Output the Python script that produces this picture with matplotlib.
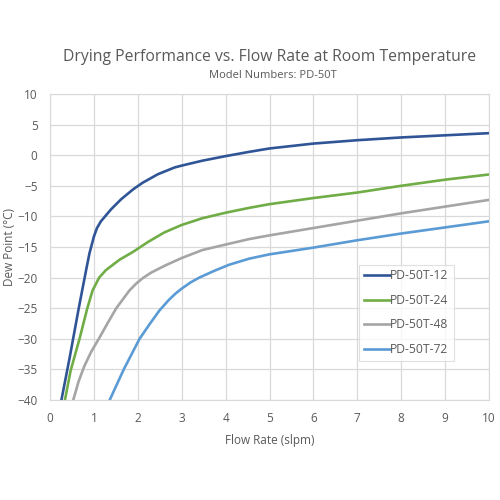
import matplotlib
matplotlib.use('Agg')
import numpy as np
from matplotlib import pyplot as plt

# flow rate (slpm) vs dew point (C)
x12 = [0.26, 0.45, 0.66, 0.83, 0.9, 1.0, 1.07, 1.16, 1.39, 1.62, 1.89, 2.11, 2.46, 2.84, 3.0, 3.47, 4.0, 4.54, 5, 6, 7, 8, 9, 10]
y12 = [-40, -33, -24.8, -18.5, -16, -13.3, -11.9, -10.8, -8.85, -7.2, -5.6, -4.5, -3.1, -2.0, -1.7, -0.9, -0.15, 0.55, 1.1, 1.9, 2.45, 2.9, 3.25, 3.6]

x24 = [0.34, 0.47, 0.68, 0.85, 0.97, 1.12, 1.27, 1.58, 1.89, 2.25, 2.61, 3.0, 3.47, 4.0, 4.54, 5, 6, 7, 8, 9, 10]
y24 = [-40, -35.2, -29.8, -25, -22.1, -20, -18.8, -17.1, -15.8, -14.1, -12.6, -11.4, -10.3, -9.4, -8.6, -8.0, -7.0, -6.1, -5.0, -4.0, -3.15]

x48 = [0.53, 0.65, 0.78, 0.94, 1.12, 1.3, 1.51, 1.81, 1.96, 2.11, 2.3, 2.63, 3.0, 3.47, 4.0, 4.54, 5, 6, 7, 8, 9, 10]
y48 = [-40, -37, -34.5, -32.1, -29.9, -27.6, -25, -22.1, -21.0, -20.1, -19.2, -18.0, -16.8, -15.5, -14.6, -13.7, -13.1, -11.9, -10.7, -9.5, -8.4, -7.3]

x72 = [1.36, 1.68, 2.04, 2.27, 2.49, 2.7, 2.86, 3.0, 3.2, 3.4, 3.74, 4.08, 4.54, 5, 6, 7, 8, 9, 10]
y72 = [-40, -35, -30, -27.6, -25.4, -23.7, -22.6, -21.8, -20.8, -20.0, -18.9, -17.9, -16.9, -16.2, -15.1, -13.9, -12.8, -11.8, -10.8]

names = ['PD-50T-12', 'PD-50T-24', 'PD-50T-48', 'PD-50T-72']
colors = ['#2F5597', '#70AD47', '#A5A5A5', '#5B9BD5']

plt.rcParams['font.family'] = ['Open Sans', 'DejaVu Sans']
txt = '#595959'

fig = plt.figure(figsize=(5, 5), dpi=100)
ax = fig.add_axes([0.1, 0.2, 0.878, 0.612])

for xs, ys, nm, c in zip([x12, x24, x48, x72], [y12, y24, y48, y72], names, colors):
    ax.plot(xs, ys, color=c, lw=1.9, label=nm, solid_joinstyle='round')

ax.set_xlim(0, 10)
ax.set_ylim(-40, 10)
ax.set_xticks(range(0, 11))
ax.set_yticks(range(-40, 11, 5))
ax.grid(True, color='#D9D9D9', lw=0.9)
ax.set_axisbelow(True)
for s in ax.spines.values():
    s.set_color('#D9D9D9')
ax.tick_params(axis='x', length=0, labelsize=8.5, colors=txt, pad=9)
ax.tick_params(axis='y', length=0, labelsize=8.5, colors=txt, pad=9)
ax.set_xlabel('Flow Rate (slpm)', fontsize=8.5, color=txt, labelpad=6)
ax.set_ylabel('Dew Point (°C)', fontsize=8.5, color=txt, labelpad=1)

fig.text(0.54, 0.886, 'Drying Performance vs. Flow Rate at Room Temperature',
         ha='center', va='center', fontsize=11.3, color=txt)
fig.text(0.545, 0.848, 'Model Numbers: PD-50T', ha='center', va='center',
         fontsize=8, color=txt)

leg = ax.legend(loc='upper left', bbox_to_anchor=(0.705, 0.4425), fontsize=8.7,
                frameon=True, fancybox=False, handlelength=2.1, handletextpad=0.05,
                borderpad=0.4, labelspacing=0.95, borderaxespad=0)
leg.get_frame().set_edgecolor('#D9D9D9')
leg.get_frame().set_linewidth(0.8)
for t in leg.get_texts():
    t.set_color(txt)

fig.savefig('out.png', dpi=100, facecolor='white')
